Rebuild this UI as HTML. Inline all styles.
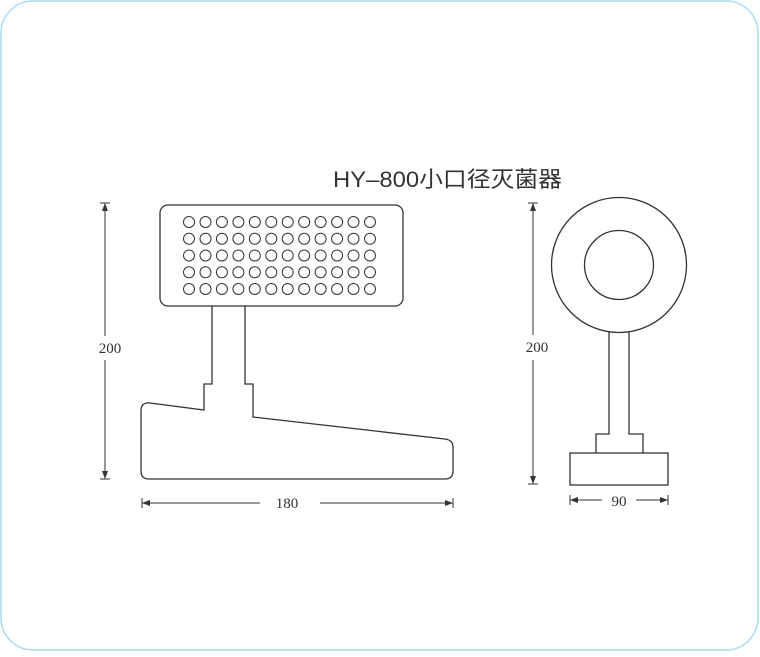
<!DOCTYPE html>
<html><head><meta charset="utf-8"><style>html,body{margin:0;padding:0;background:#fff}</style></head>
<body>
<svg width="760" height="652" viewBox="0 0 760 652" xmlns="http://www.w3.org/2000/svg">
<rect x="1" y="1" width="757" height="649" rx="32" fill="#fff" stroke="#a9dcef" stroke-width="1.5"/>
<text x="333" y="187" font-family="Liberation Sans, Noto Sans CJK SC, sans-serif" font-size="22" fill="#333" textLength="229" lengthAdjust="spacingAndGlyphs">HY–800小口径灭菌器</text>
<g fill="none" stroke="#333" stroke-width="1.3">
<rect x="160" y="205" width="243" height="101" rx="8"/>
<path d="M212 306 V384 H204 V410 L150 403 Q141 402 141 411 V471 Q141 479 149 479 H445 Q453 479 453 471 V447 Q453 440 445 439 L253 417 V384 H245 V306"/>
<circle cx="619" cy="265" r="67.5"/>
<circle cx="619" cy="265" r="34.5"/>
<path d="M609 332 V434 H596 V453 M629 332 V434 H643 V453"/>
<rect x="570" y="453" width="98" height="32"/>
</g>
<g fill="none" stroke="#333" stroke-width="1">
<circle cx="0" cy="0" r="0"/>
</g>
<g fill="none" stroke="#333" stroke-width="1" id="holes">
</g>
<g stroke="#333" stroke-width="1" fill="none">
<line x1="105" y1="203" x2="105" y2="336"/><line x1="105" y1="360" x2="105" y2="479"/>
<line x1="100" y1="203" x2="110" y2="203"/><line x1="100" y1="479" x2="110" y2="479"/>
<line x1="142" y1="503" x2="260" y2="503"/><line x1="320" y1="503" x2="453" y2="503"/>
<line x1="142" y1="498" x2="142" y2="508"/><line x1="453" y1="498" x2="453" y2="508"/>
<line x1="533" y1="203" x2="533" y2="335"/><line x1="533" y1="360" x2="533" y2="484"/>
<line x1="528" y1="203" x2="538" y2="203"/><line x1="528" y1="484" x2="538" y2="484"/>
<line x1="570" y1="500" x2="602" y2="500"/><line x1="636" y1="500" x2="668" y2="500"/>
<line x1="570" y1="495" x2="570" y2="505"/><line x1="668" y1="495" x2="668" y2="505"/>
</g>
<g fill="#333">
<path d="M105 203 l-3 8 h6z M105 479 l-3 -8 h6z M142 503 l8 -3 v6z M453 503 l-8 -3 v6z M533 203 l-3 8 h6z M533 484 l-3 -8 h6z M570 500 l8 -3 v6z M668 500 l-8 -3 v6z"/>
</g>
<g font-family="Liberation Serif, serif" font-size="15" fill="#333" text-anchor="middle">
<text x="110" y="353">200</text>
<text x="287" y="508">180</text>
<text x="537" y="352">200</text>
<text x="619" y="506">90</text>
</g>
<g fill="none" stroke="#333" stroke-width="1">
<circle cx="189" cy="222" r="5.5"/><circle cx="205.5" cy="222" r="5.5"/><circle cx="221.9" cy="222" r="5.5"/><circle cx="238.4" cy="222" r="5.5"/><circle cx="254.8" cy="222" r="5.5"/><circle cx="271.3" cy="222" r="5.5"/><circle cx="287.7" cy="222" r="5.5"/><circle cx="304.2" cy="222" r="5.5"/><circle cx="320.6" cy="222" r="5.5"/><circle cx="337.1" cy="222" r="5.5"/><circle cx="353.5" cy="222" r="5.5"/><circle cx="370" cy="222" r="5.5"/>
<circle cx="189" cy="238.75" r="5.5"/><circle cx="205.5" cy="238.75" r="5.5"/><circle cx="221.9" cy="238.75" r="5.5"/><circle cx="238.4" cy="238.75" r="5.5"/><circle cx="254.8" cy="238.75" r="5.5"/><circle cx="271.3" cy="238.75" r="5.5"/><circle cx="287.7" cy="238.75" r="5.5"/><circle cx="304.2" cy="238.75" r="5.5"/><circle cx="320.6" cy="238.75" r="5.5"/><circle cx="337.1" cy="238.75" r="5.5"/><circle cx="353.5" cy="238.75" r="5.5"/><circle cx="370" cy="238.75" r="5.5"/>
<circle cx="189" cy="255.5" r="5.5"/><circle cx="205.5" cy="255.5" r="5.5"/><circle cx="221.9" cy="255.5" r="5.5"/><circle cx="238.4" cy="255.5" r="5.5"/><circle cx="254.8" cy="255.5" r="5.5"/><circle cx="271.3" cy="255.5" r="5.5"/><circle cx="287.7" cy="255.5" r="5.5"/><circle cx="304.2" cy="255.5" r="5.5"/><circle cx="320.6" cy="255.5" r="5.5"/><circle cx="337.1" cy="255.5" r="5.5"/><circle cx="353.5" cy="255.5" r="5.5"/><circle cx="370" cy="255.5" r="5.5"/>
<circle cx="189" cy="272.25" r="5.5"/><circle cx="205.5" cy="272.25" r="5.5"/><circle cx="221.9" cy="272.25" r="5.5"/><circle cx="238.4" cy="272.25" r="5.5"/><circle cx="254.8" cy="272.25" r="5.5"/><circle cx="271.3" cy="272.25" r="5.5"/><circle cx="287.7" cy="272.25" r="5.5"/><circle cx="304.2" cy="272.25" r="5.5"/><circle cx="320.6" cy="272.25" r="5.5"/><circle cx="337.1" cy="272.25" r="5.5"/><circle cx="353.5" cy="272.25" r="5.5"/><circle cx="370" cy="272.25" r="5.5"/>
<circle cx="189" cy="289" r="5.5"/><circle cx="205.5" cy="289" r="5.5"/><circle cx="221.9" cy="289" r="5.5"/><circle cx="238.4" cy="289" r="5.5"/><circle cx="254.8" cy="289" r="5.5"/><circle cx="271.3" cy="289" r="5.5"/><circle cx="287.7" cy="289" r="5.5"/><circle cx="304.2" cy="289" r="5.5"/><circle cx="320.6" cy="289" r="5.5"/><circle cx="337.1" cy="289" r="5.5"/><circle cx="353.5" cy="289" r="5.5"/><circle cx="370" cy="289" r="5.5"/>
</g>
</svg>
</body></html>
